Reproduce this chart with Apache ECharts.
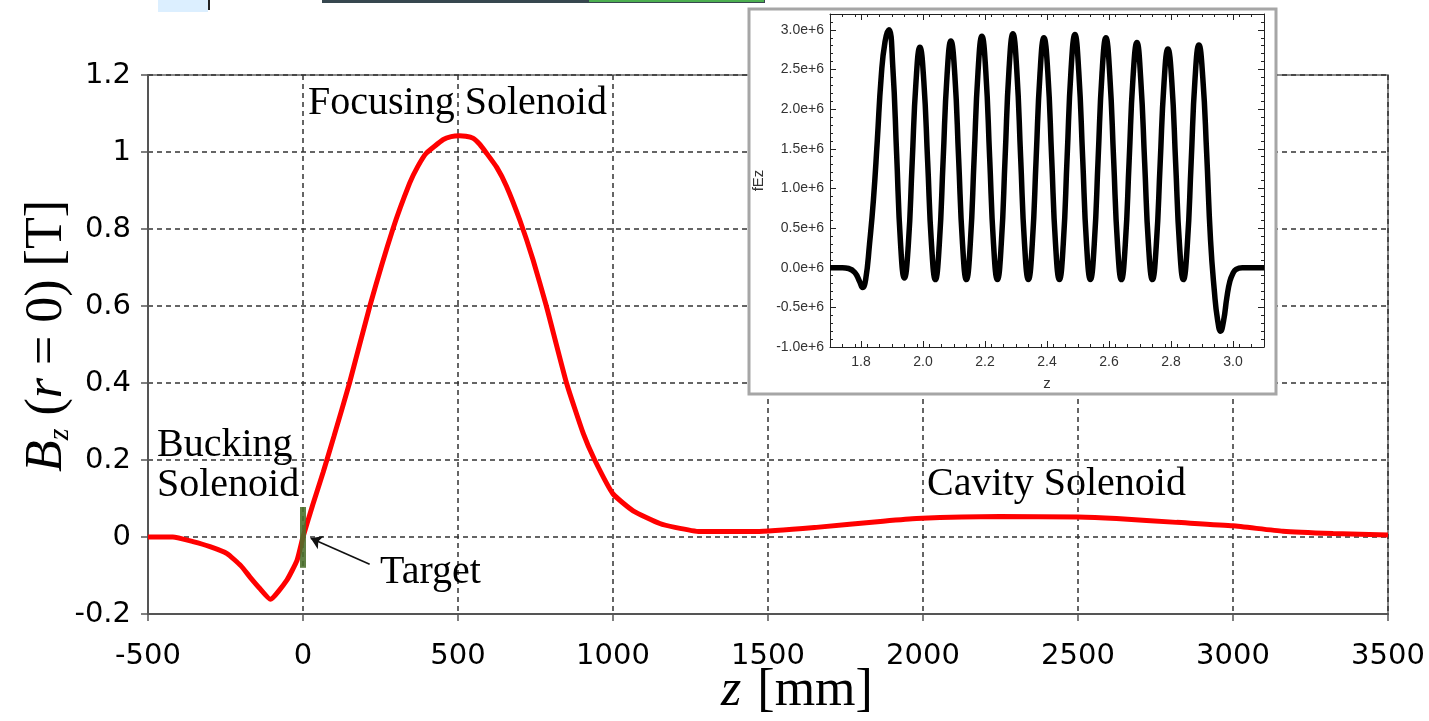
<!DOCTYPE html>
<html>
<head>
<meta charset="utf-8">
<title>Bz on axis</title>
<script src="https://cdn.jsdelivr.net/npm/echarts@6/dist/echarts.min.js"></script>
<style>
  html, body { margin: 0; padding: 0; background: #fff; }
  #chart { width: 1429px; height: 721px; }
</style>
</head>
<body>
<div id="chart"></div>
<script>
// On-axis solenoid field Bz(r=0) along the beamline, z in mm, field in T
const zMain = [-500, -420, -355, -300, -245, -200, -171, -140, -105, -52, -19, 0, 32, 65, 100, 150,
  215, 290, 344, 370, 398, 452, 478, 505, 525, 548, 570, 592, 625, 656, 699, 742, 785, 850, 904, 941,
  1000, 1065, 1151, 1200, 1280, 1463, 1656, 1871, 1979, 2248, 2500, 2624, 2818, 3000, 3161, 3323, 3500];
const bzMain = [0, 0, -0.012, -0.025, -0.043, -0.075, -0.104, -0.133, -0.162, -0.112, -0.06, 0, 0.085, 0.168, 0.262, 0.4,
  0.598, 0.8, 0.919, 0.962, 0.997, 1.032, 1.04, 1.042, 1.041, 1.036, 1.02, 0.997, 0.96, 0.912, 0.824, 0.72, 0.6, 0.4, 0.269, 0.2,
  0.112, 0.068, 0.035, 0.025, 0.014, 0.014, 0.025, 0.041, 0.048, 0.053, 0.052, 0.048, 0.038, 0.029, 0.015, 0.009, 0.005];

// Target position marker (z = 0) and its extent in field units
const targetZ = 0;
const targetSpan = [-0.08, 0.078];
const targetArrowFrom = [215, -0.071];
const targetArrowTo = [25, -0.003];

// RF cavity on-axis field fEz (units of 1e6), z in m
const insetZ = [1.70, 1.74, 1.76, 1.78, 1.795, 1.805, 1.815, 1.8275, 1.84, 1.8525, 1.865, 1.8775,
  1.89, 1.9025, 1.915, 1.9275, 1.94, 1.9525, 1.965, 1.9775,
  1.99, 2.0025, 2.015, 2.0275, 2.04, 2.0525, 2.065, 2.0775,
  2.09, 2.1025, 2.115, 2.1275, 2.14, 2.1525, 2.165, 2.1775,
  2.19, 2.2025, 2.215, 2.2275, 2.24, 2.2525, 2.265, 2.2775,
  2.29, 2.3025, 2.315, 2.3275, 2.34, 2.3525, 2.365, 2.3775,
  2.39, 2.4025, 2.415, 2.4275, 2.44, 2.4525, 2.465, 2.4775,
  2.49, 2.5025, 2.515, 2.5275, 2.54, 2.5525, 2.565, 2.5775,
  2.59, 2.6025, 2.615, 2.6275, 2.64, 2.6525, 2.665, 2.6775,
  2.69, 2.7025, 2.715, 2.7275, 2.74, 2.7525, 2.765, 2.7775,
  2.79, 2.8025, 2.815, 2.8275, 2.84, 2.8525, 2.865, 2.8775,
  2.89, 2.9025, 2.915, 2.9275, 2.94, 2.95, 2.96, 2.97, 2.98, 2.99, 3.00, 3.01, 3.03, 3.10];
const insetEz = [0, 0, -0.01, -0.06, -0.17, -0.25, -0.15, 0.3, 0.85, 1.6, 2.4, 2.85,
  3.00, 2.54, 1.43, 0.31, -0.13, 0.28, 1.32, 2.35,
  2.78, 2.36, 1.34, 0.29, -0.15, 0.29, 1.36, 2.42,
  2.86, 2.44, 1.37, 0.30, -0.15, 0.30, 1.39, 2.47,
  2.92, 2.48, 1.39, 0.30, -0.15, 0.30, 1.40, 2.50,
  2.95, 2.49, 1.39, 0.30, -0.15, 0.30, 1.38, 2.45,
  2.90, 2.47, 1.39, 0.30, -0.15, 0.30, 1.40, 2.49,
  2.94, 2.47, 1.39, 0.30, -0.15, 0.30, 1.38, 2.45,
  2.90, 2.43, 1.36, 0.29, -0.15, 0.29, 1.35, 2.40,
  2.84, 2.37, 1.33, 0.28, -0.15, 0.28, 1.31, 2.33,
  2.76, 2.35, 1.32, 0.28, -0.15, 0.28, 1.33, 2.38,
  2.81, 2.40, 1.45, 0.35, -0.30, -0.65, -0.80, -0.66, -0.38, -0.17, -0.07, -0.02, 0, 0];

const insetZLabels = [1.8, 2.0, 2.2, 2.4, 2.6, 2.8, 3.0];
const insetEzLabels = [-1.0, -0.5, 0.0, 0.5, 1.0, 1.5, 2.0, 2.5, 3.0];

// minor tick positions for the inset frame
const insetZMinor = [];
for (let k = 0; k <= 35; k++) insetZMinor.push(+(1.70 + 0.04 * k).toFixed(2));
const insetEzMinor = [];
for (let k = 0; k <= 42; k++) insetEzMinor.push(+(-1.0 + 0.1 * k).toFixed(1));

const chart = echarts.init(document.getElementById('chart'), null, { renderer: 'canvas' });

const SERIF = '"Liberation Serif", "Times New Roman", serif';
const SANS = '"Liberation Sans", Arial, sans-serif';
const TICKFONT = '"DejaVu Sans", Verdana, sans-serif';

const gridDash = { color: '#333', type: [5, 4], width: 1.5 };

function insetAxisX(pos, labels, major) {
  return {
    type: 'value', gridIndex: 1, position: pos, min: 1.7, max: 3.1, z: 4,
    axisLine: { show: major, onZero: false, lineStyle: { color: '#222', width: 1 } },
    axisTick: { show: true, inside: true, length: major ? 6 : 3, customValues: major ? insetZLabels : insetZMinor,
      lineStyle: { color: '#222', width: 1 } },
    axisLabel: labels ? { show: true, customValues: insetZLabels, fontSize: 14, fontFamily: SANS, color: '#333', margin: 8,
      formatter: v => v.toFixed(1) } : { show: false },
    splitLine: { show: false },
    name: labels ? 'z' : '', nameLocation: 'middle', nameGap: 29,
    nameTextStyle: { fontSize: 15, fontFamily: SANS, color: '#333' }
  };
}
function insetAxisY(pos, labels, major) {
  return {
    type: 'value', gridIndex: 1, position: pos, min: -1.0, max: 3.2, z: 4,
    axisLine: { show: major, onZero: false, lineStyle: { color: '#222', width: 1 } },
    axisTick: { show: true, inside: true, length: major ? 6 : 3, customValues: major ? insetEzLabels : insetEzMinor,
      lineStyle: { color: '#222', width: 1 } },
    axisLabel: labels ? { show: true, customValues: insetEzLabels, fontSize: 14, fontFamily: SANS, color: '#333', margin: 6,
      formatter: v => v.toFixed(1) + 'e+6' } : { show: false },
    splitLine: { show: false },
    name: labels ? 'fEz' : '', nameLocation: 'middle', nameGap: 64,
    nameTextStyle: { fontSize: 15, fontFamily: SANS, color: '#333' }
  };
}

const option = {
  backgroundColor: '#ffffff',
  animation: false,
  grid: [
    { left: 148, right: 41, top: 75, bottom: 107, show: true, borderColor: '#666', borderWidth: 1.5, z: 0 },
    { left: 830, top: 14, width: 434, height: 333, show: false, z: 4 }
  ],
  xAxis: [
    {
      type: 'value', gridIndex: 0, min: -500, max: 3500, interval: 500,
      axisLine: { show: true, onZero: false, lineStyle: { color: '#555', width: 2 } },
      axisTick: { show: true, length: 7, lineStyle: { color: '#555', width: 1.5 } },
      axisLabel: { fontSize: 29, fontFamily: TICKFONT, color: '#000', margin: 28, formatter: v => String(v) },
      splitLine: { show: true, lineStyle: gridDash }
    },
    insetAxisX('bottom', true, true),
    insetAxisX('bottom', false, false),
    insetAxisX('top', false, true),
    insetAxisX('top', false, false)
  ],
  yAxis: [
    {
      type: 'value', gridIndex: 0, min: -0.2, max: 1.2, interval: 0.2,
      axisLine: { show: true, onZero: false, lineStyle: { color: '#555', width: 2 } },
      axisTick: { show: true, length: 7, lineStyle: { color: '#555', width: 1.5 } },
      axisLabel: { fontSize: 29, fontFamily: TICKFONT, color: '#000', margin: 17,
        formatter: v => String(Number(v.toFixed(1))) },
      splitLine: { show: true, lineStyle: gridDash }
    },
    insetAxisY('left', true, true),
    insetAxisY('left', false, false),
    insetAxisY('right', false, true),
    insetAxisY('right', false, false)
  ],
  series: [
    {
      name: 'Bz', type: 'line', xAxisIndex: 0, yAxisIndex: 0,
      data: zMain.map((z, i) => [z, bzMain[i]]),
      showSymbol: false, symbol: 'none', smooth: 0.15,
      lineStyle: { color: '#ff0000', width: 5 }, z: 2
    },
    {
      name: 'Target', type: 'line', xAxisIndex: 0, yAxisIndex: 0,
      data: targetSpan.map(b => [targetZ, b]),
      showSymbol: false, symbol: 'none',
      lineStyle: { color: 'rgba(74,112,42,0.88)', width: 6, cap: 'butt' }, z: 3,
      markLine: {
        silent: true, symbol: ['none', 'arrow'], symbolSize: 11,
        lineStyle: { color: '#111', width: 1.6, type: 'solid' },
        label: { show: false },
        data: [[{ coord: targetArrowFrom }, { coord: targetArrowTo }]]
      }
    },
    {
      name: 'fEz', type: 'line', xAxisIndex: 1, yAxisIndex: 1,
      data: insetZ.map((z, i) => [z, insetEz[i]]),
      showSymbol: false, symbol: 'none', smooth: 0.5,
      lineStyle: { color: '#000', width: 5.5 }, z: 6
    }
  ],
  graphic: {
    elements: [
      // strip of toolbar at the top edge
      { type: 'rect', z: 1, shape: { x: 158, y: 0, width: 50, height: 12 }, style: { fill: '#dcefff' } },
      { type: 'rect', z: 1, shape: { x: 208, y: 0, width: 2, height: 10 }, style: { fill: '#222' } },
      { type: 'rect', z: 1, shape: { x: 322, y: 0, width: 443, height: 3 }, style: { fill: '#37474f' } },
      { type: 'rect', z: 1, shape: { x: 589, y: 0, width: 175, height: 2 }, style: { fill: '#4caf50' } },

      // inset panel
      { type: 'rect', z: 3, shape: { x: 749, y: 9, width: 527, height: 385 },
        style: { fill: '#ffffff', stroke: '#a6a6a6', lineWidth: 3 } },
      { type: 'group', z: 5, children: [
        { type: 'circle', shape: { cx: 758, cy: 375, r: 2.4 }, style: { fill: '#8a8a8a' } },
        { type: 'circle', shape: { cx: 764, cy: 374, r: 2.4 }, style: { fill: '#8a8a8a' } },
        { type: 'circle', shape: { cx: 769, cy: 374, r: 2.4 }, style: { fill: '#8a8a8a' } },
        { type: 'circle', shape: { cx: 761, cy: 380, r: 2.4 }, style: { fill: '#8a8a8a' } },
        { type: 'circle', shape: { cx: 767, cy: 380, r: 2.4 }, style: { fill: '#8a8a8a' } },
        { type: 'circle', shape: { cx: 773, cy: 380, r: 2.4 }, style: { fill: '#8a8a8a' } },
        { type: 'circle', shape: { cx: 764, cy: 386, r: 2.4 }, style: { fill: '#8a8a8a' } },
        { type: 'circle', shape: { cx: 770, cy: 387, r: 2.4 }, style: { fill: '#8a8a8a' } },
        { type: 'rect', shape: { x: 751, y: 374, width: 4, height: 1 }, style: { fill: '#aaa' } },
        { type: 'rect', shape: { x: 751, y: 379, width: 4, height: 1 }, style: { fill: '#aaa' } },
        { type: 'rect', shape: { x: 751, y: 384, width: 4, height: 1 }, style: { fill: '#aaa' } },
        { type: 'text', style: { x: 777, y: 386, text: 'GPT', font: '10px ' + SANS, fill: '#a8a8a8',
          textAlign: 'left', textVerticalAlign: 'middle' } }
      ] },

      // region annotations
      { type: 'text', z: 7, style: { x: 308, y: 103, text: 'Focusing Solenoid', font: '40px ' + SERIF, fill: '#000',
        textAlign: 'left', textVerticalAlign: 'middle' } },
      { type: 'text', z: 7, style: { x: 157, y: 445, text: 'Bucking', font: '40px ' + SERIF, fill: '#000',
        textAlign: 'left', textVerticalAlign: 'middle' } },
      { type: 'text', z: 7, style: { x: 157, y: 485, text: 'Solenoid', font: '40px ' + SERIF, fill: '#000',
        textAlign: 'left', textVerticalAlign: 'middle' } },
      { type: 'text', z: 7, style: { x: 927, y: 484, text: 'Cavity Solenoid', font: '40px ' + SERIF, fill: '#000',
        textAlign: 'left', textVerticalAlign: 'middle' } },
      { type: 'text', z: 7, style: { x: 380, y: 572, text: 'Target', font: '40px ' + SERIF, fill: '#000',
        textAlign: 'left', textVerticalAlign: 'middle' } },

      // axis titles
      { type: 'text', z: 7, x: 797, y: 691, style: {
        text: '{i|z}{g|}{n|[mm]}', textAlign: 'center', textVerticalAlign: 'middle',
        rich: {
          i: { fontFamily: SERIF, fontSize: 52, fontStyle: 'italic', fill: '#000' },
          g: { width: 16, height: 10 },
          n: { fontFamily: SERIF, fontSize: 52, fill: '#000' }
        } } },
      { type: 'text', z: 7, x: 47, y: 336, rotation: Math.PI / 2, style: {
        text: '{i|B}{s|z}{n| (}{i|r}{n| = 0) [T]}', textAlign: 'center', textVerticalAlign: 'middle',
        rich: {
          i: { fontFamily: SERIF, fontSize: 52, fontStyle: 'italic', fill: '#000', lineHeight: 56 },
          s: { fontFamily: SERIF, fontSize: 30, fontStyle: 'italic', fill: '#000', lineHeight: 20, verticalAlign: 'bottom' },
          n: { fontFamily: SERIF, fontSize: 52, fill: '#000', lineHeight: 56 }
        } } }
    ]
  }
};

chart.setOption(option);
</script>
</body>
</html>
